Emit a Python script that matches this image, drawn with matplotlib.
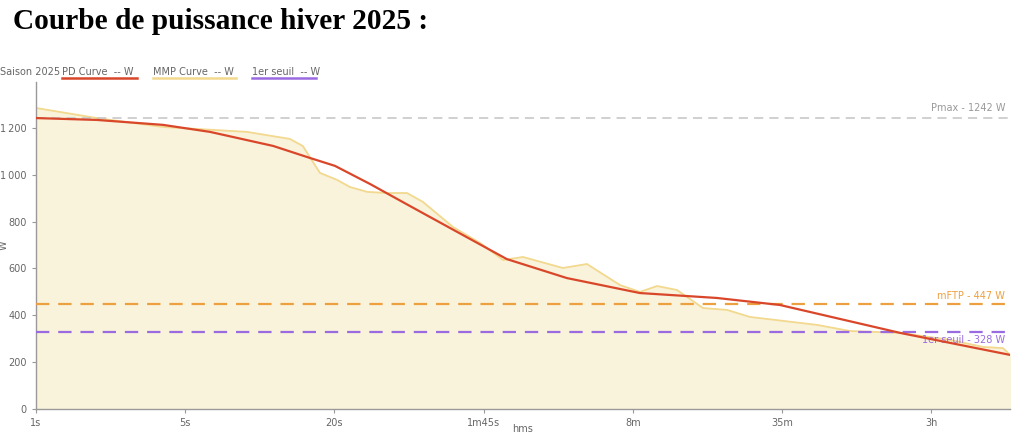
import numpy as np
import matplotlib
matplotlib.use("Agg")
import matplotlib.pyplot as plt
from matplotlib.lines import Line2D

# Data (durations in seconds, power in W)
pdSeconds = [1, 1.88, 3.73, 6.08, 11.7, 17.1, 22.2, 31.9, 52, 87, 132, 246, 525, 1167, 2244, 7787, 24380]
pdWatts = [1242, 1234, 1213, 1183, 1123, 1072, 1038, 961, 850, 734, 640, 559, 495, 474, 444, 325, 231]

mmpSeconds = [1, 1.88, 3.73, 8.92, 13.9, 15.9, 19.0, 22.7, 25.9, 31.0, 38.1, 46.9, 55.3, 75.5, 100,
              127, 156, 236, 303, 427, 525, 627, 771, 1010, 1295, 1644, 3295, 4637, 7787, 13090,
              18420, 22650, 24380]
mmpWatts = [1285, 1242, 1204, 1183, 1153, 1123, 1008, 978, 948, 927, 922, 922, 884, 777, 709,
            636, 649, 602, 619, 529, 500, 525, 508, 431, 423, 393, 359, 333, 325, 295,
            265, 260, 231]

pmax = 1242
mftp = 447
seuil1 = 328

tickLabels = ["1s", "5s", "20s", "1m45s", "8m", "35m", "3h"]
tickStep = 0.672  # log10 step between ticks (evenly spaced on the chart)
tickPos = [10 ** (tickStep * i) for i in range(len(tickLabels))]
yTicks = [0, 200, 400, 600, 800, 1000, 1200]

grey = "#666666"
red = "#d9472b"
yellowLine = "#f2d98f"
yellowFill = "#faf3db"
orange = "#eda040"
purple = "#9a6be0"

fig = plt.figure(figsize=(10.24, 4.32), dpi=100)
ax = fig.add_axes([36 / 1024, 23 / 432, 974 / 1024, 327 / 432])

ax.fill_between(mmpSeconds, 0, mmpWatts, color=yellowFill, zorder=1)
ax.plot(mmpSeconds, mmpWatts, color=yellowLine, lw=1.3, zorder=2)

ax.axhline(pmax, color="#c4c4c4", lw=1.1, ls=(0, (6, 4)), zorder=3)
ax.axhline(mftp, color=orange, lw=1.6, ls=(0, (6, 4)), zorder=3)
ax.axhline(seuil1, color=purple, lw=1.6, ls=(0, (6, 4)), zorder=3)

ax.plot(pdSeconds, pdWatts, color=red, lw=1.6, zorder=5)

ax.set_xscale("log")
ax.set_xlim(1, 24380)
ax.set_ylim(0, 1396)
ax.set_xticks(tickPos)
ax.set_xticklabels(tickLabels)
ax.minorticks_off()
ax.set_yticks(yTicks)
ax.set_yticklabels([f"{v:,}".replace(",", "\u2009") if v >= 1000 else str(v) for v in yTicks])

for s in ["top", "right"]:
    ax.spines[s].set_visible(False)
for s in ["left", "bottom"]:
    ax.spines[s].set_color("#999999")
    ax.spines[s].set_linewidth(1.0)
ax.tick_params(colors="#999999", labelcolor=grey, labelsize=7, length=3, width=0.8)

# axis titles (partly clipped in the original)
fig.text(4 / 1024, 1 - 245 / 432, "W", rotation=90, fontsize=7, color=grey, ha="center", va="center")
fig.text(523 / 1024, 1 - 424 / 432, "hms", fontsize=7, color=grey, ha="center", va="top")

# Line annotations on the right
ax.text(0.995, pmax + 20, "Pmax - 1242 W", transform=ax.get_yaxis_transform(),
        ha="right", va="bottom", fontsize=7, color="#999999")
ax.text(0.995, mftp + 15, "mFTP - 447 W", transform=ax.get_yaxis_transform(),
        ha="right", va="bottom", fontsize=7, color=orange)
ax.text(0.995, seuil1 - 10, "1er seuil - 328 W", transform=ax.get_yaxis_transform(),
        ha="right", va="top", fontsize=7, color=purple, zorder=4)

# Title
fig.text(13 / 1024, 1 - 29 / 432, "Courbe de puissance hiver 2025 :", fontsize=21.2,
         fontweight="bold", family="Liberation Serif", ha="left", va="baseline")

# Legend row
fig.text(0, 1 - 72 / 432, "Saison 2025", fontsize=7, color=grey, va="center", ha="left")
legendItems = [("PD Curve  -- W", red, 62, 137),
               ("MMP Curve  -- W", yellowLine, 153, 236),
               ("1er seuil  -- W", purple, 252, 316)]
for label, col, x0, x1 in legendItems:
    fig.text(x0 / 1024, 1 - 72 / 432, label, fontsize=7, color=grey, va="center", ha="left")
    fig.add_artist(Line2D([x0 / 1024, x1 / 1024], [1 - 77.5 / 432, 1 - 77.5 / 432],
                          color=col, lw=1.8, transform=fig.transFigure))

fig.savefig("out.png", dpi=100)
